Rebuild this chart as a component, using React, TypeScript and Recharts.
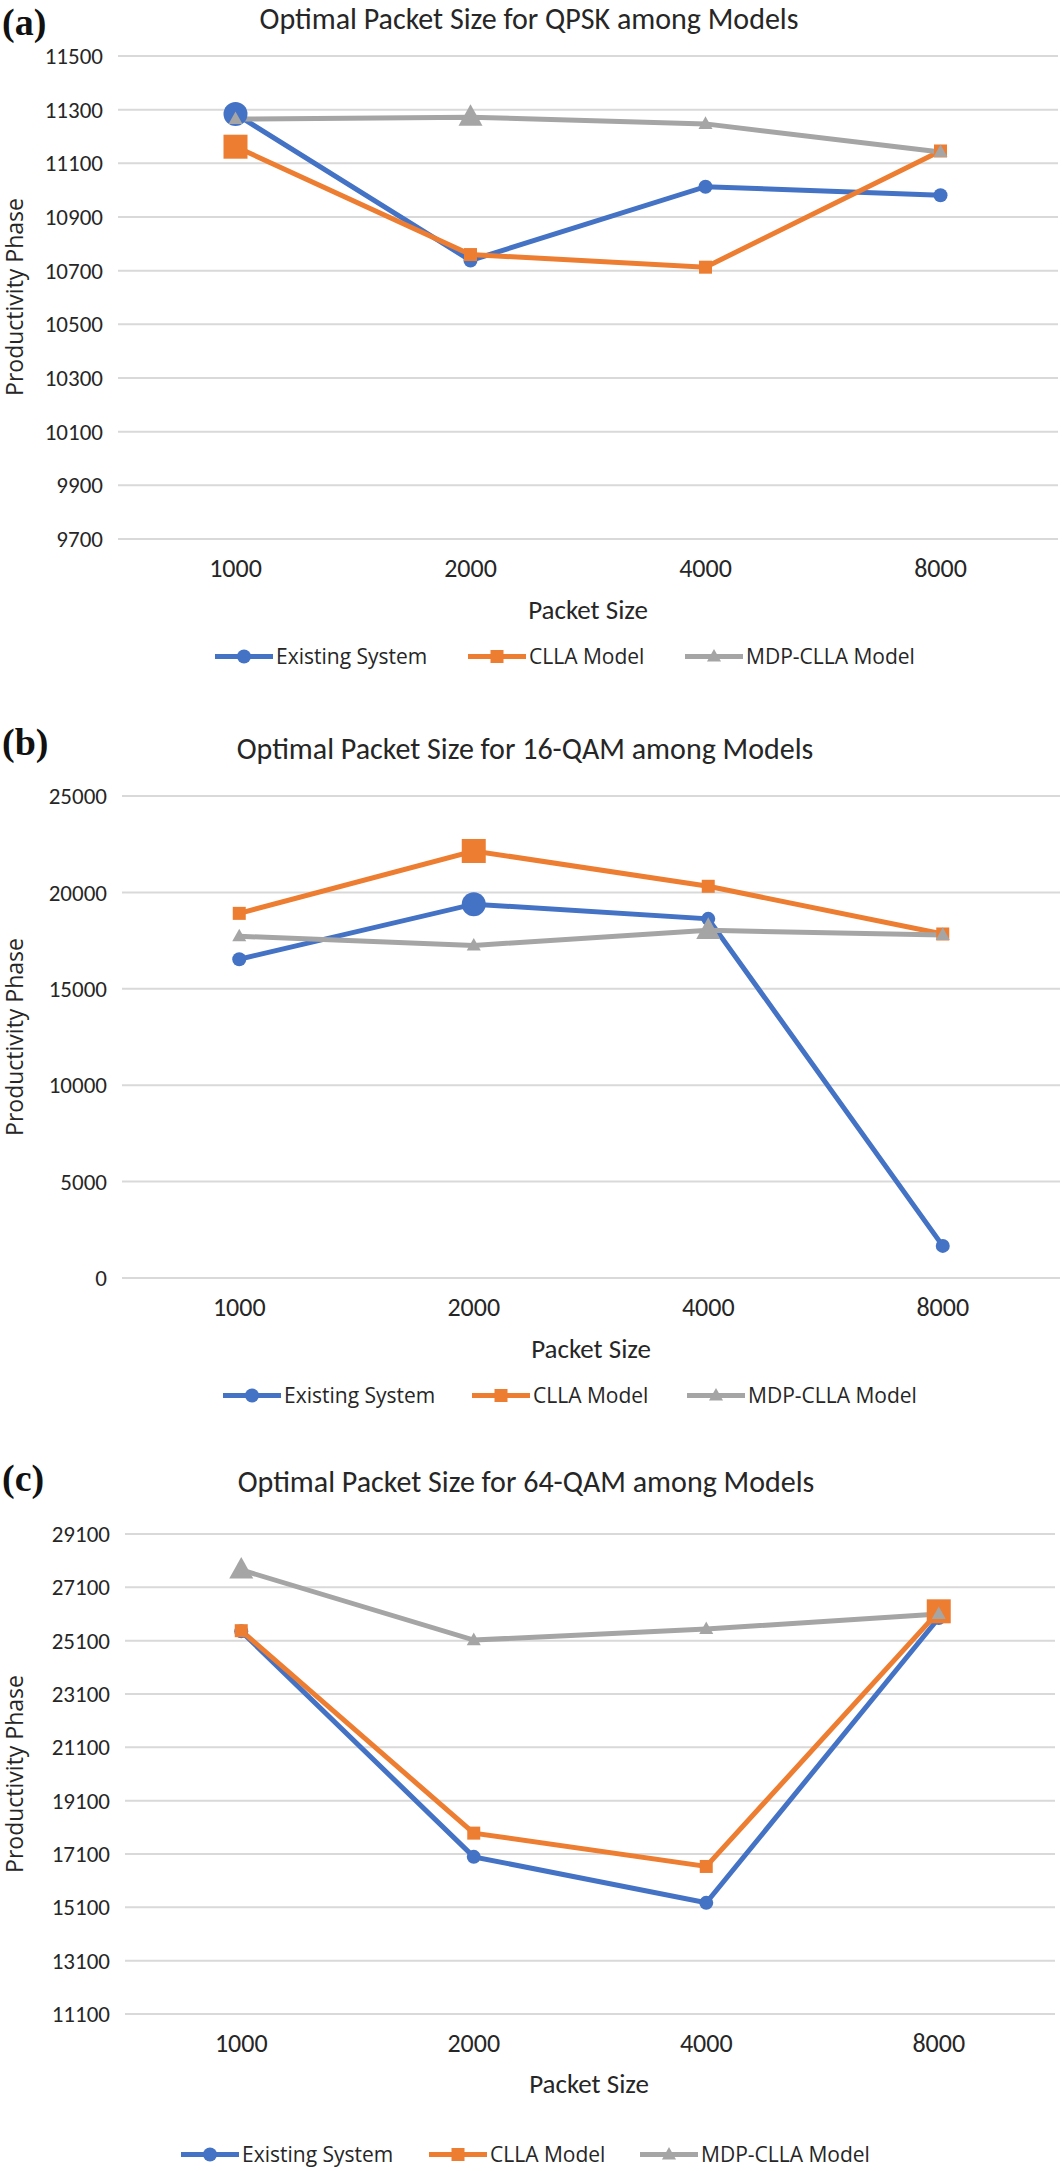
import React from 'react';
import { LineChart, Line, XAxis, YAxis, CartesianGrid } from 'recharts';

// Packet sizes shared by all three panels
const packetSizes = ['1000', '2000', '4000', '8000'];
const seriesNames = ['Existing System', 'CLLA Model', 'MDP-CLLA Model'];

// (a) QPSK
const qpskExisting = [11284, 10738, 11013, 10981];
const qpskClla = [11162, 10760, 10713, 11146];
const qpskMdp = [11265, 11272, 11247, 11142];
const qpskTicks = [9700, 9900, 10100, 10300, 10500, 10700, 10900, 11100, 11300, 11500];

// (b) 16-QAM
const qam16Existing = [16534, 19389, 18628, 1665];
const qam16Clla = [18913, 22148, 20317, 17843];
const qam16Mdp = [17724, 17248, 18033, 17795];
const qam16Ticks = [0, 5000, 10000, 15000, 20000, 25000];

// (c) 64-QAM
const qam64Existing = [25450, 16993, 15269, 25950];
const qam64Clla = [25474, 17883, 16633, 26200];
const qam64Mdp = [27754, 25121, 25538, 26100];
const qam64Ticks = [11100, 13100, 15100, 17100, 19100, 21100, 23100, 25100, 27100, 29100];

const COLORS = ['#4472C4', '#ED7D31', '#A5A5A5'];
const SHAPES = ['circle', 'square', 'triangle'];
const KEYS = ['existing', 'clla', 'mdp'];

const NARROW = 'Carlito, "Liberation Sans Narrow", "DejaVu Sans Condensed", "Noto Sans", sans-serif';
const WIDE = '"Open Sans", "Noto Sans", sans-serif';
const TEXT = '#262626';

const drawMarker = (shape: string, color: string, cx: number, cy: number, big: boolean, key?: any) => {
  if (shape === 'circle') {
    return <circle key={key} cx={cx} cy={cy} r={big ? 12 : 7} fill={color} />;
  }
  if (shape === 'square') {
    const s = big ? 24 : 13;
    return <rect key={key} x={cx - s / 2} y={cy - s / 2} width={s} height={s} fill={color} />;
  }
  const s = big ? 24 : 14;
  const h = s * 0.9;
  return (
    <polygon
      key={key}
      points={`${cx},${cy - h * 0.6} ${cx - s / 2},${cy + h * 0.4} ${cx + s / 2},${cy + h * 0.4}`}
      fill={color}
    />
  );
};

const makeDot = (shape: string, color: string, bigIndex: number) => (props: any) => {
  const { cx, cy, index } = props;
  if (cx == null || cy == null) return <g key={index} />;
  return drawMarker(shape, color, cx, cy, index === bigIndex, index);
};

const LegendIcon = ({ i }: { i: number }) => (
  <svg width={58} height={20} style={{ display: 'block' }}>
    <line x1={0} y1={10} x2={58} y2={10} stroke={COLORS[i]} strokeWidth={5} strokeLinecap="round" />
    {drawMarker(SHAPES[i], COLORS[i], 29, 10, false)}
  </svg>
);

interface PanelProps {
  top: number;
  height: number;
  plotTop: number;
  plotBottom: number;
  plotLeft: number;
  plotRight: number;
  tag: string;
  tagY: number;
  title: string;
  titleX: number;
  titleY: number;
  yLabelY: number;
  xLabelX: number;
  xLabelY: number;
  legendY: number;
  legendLefts: number[];
  series: number[][];
  ticks: number[];
  bigIdx: number[];
}

const Panel = (p: PanelProps) => {
  const data = packetSizes.map((size, i) => ({
    size,
    existing: p.series[0][i],
    clla: p.series[1][i],
    mdp: p.series[2][i],
  }));
  const band = (p.plotRight - p.plotLeft) / packetSizes.length;
  const xAxisH = 30;
  return (
    <>
      <div style={{ position: 'absolute', left: 0, top: p.top, width: 1062, height: p.height }}>
        <LineChart
          width={1062}
          height={p.height}
          data={data}
          margin={{
            top: p.plotTop - p.top,
            right: 1062 - p.plotRight,
            bottom: p.top + p.height - p.plotBottom - xAxisH,
            left: 0,
          }}
        >
          <CartesianGrid vertical={false} stroke="#d9d9d9" strokeWidth={2} />
          <XAxis
            dataKey="size"
            height={xAxisH}
            axisLine={false}
            tickLine={false}
            tickSize={0}
            tickMargin={20}
            padding={{ left: band / 2, right: band / 2 }}
            tick={{ fill: TEXT, fontSize: 26, fontFamily: NARROW }}
          />
          <YAxis
            width={p.plotLeft}
            domain={[p.ticks[0], p.ticks[p.ticks.length - 1]]}
            ticks={p.ticks}
            interval={0}
            axisLine={false}
            tickLine={false}
            tickSize={0}
            tickMargin={15}
            tick={{ fill: TEXT, fontSize: 23, fontFamily: NARROW }}
          />
          {KEYS.map((k, i) => (
            <Line
              key={k}
              dataKey={k}
              stroke={COLORS[i]}
              strokeWidth={5}
              type="linear"
              dot={makeDot(SHAPES[i], COLORS[i], p.bigIdx[i])}
              activeDot={false}
              isAnimationActive={false}
            />
          ))}
        </LineChart>
      </div>
      <div
        style={{
          position: 'absolute', left: 2, top: p.tagY, transform: 'translateY(-50%)',
          fontFamily: '"Liberation Serif", "DejaVu Serif", serif', fontWeight: 'bold', fontSize: 38, lineHeight: 1, color: '#111',
        }}
      >
        {p.tag}
      </div>
      <div
        style={{
          position: 'absolute', left: p.titleX, top: p.titleY, transform: 'translate(-50%, -50%)',
          fontFamily: NARROW, fontSize: 30, whiteSpace: 'nowrap', color: TEXT, lineHeight: 1.1,
        }}
      >
        {p.title}
      </div>
      <div
        style={{
          position: 'absolute', left: 14, top: p.yLabelY, transform: 'translate(-50%, -50%) rotate(-90deg)',
          fontFamily: WIDE, fontSize: 23, whiteSpace: 'nowrap', color: TEXT, lineHeight: 1,
        }}
      >
        Productivity Phase
      </div>
      <div
        style={{
          position: 'absolute', left: p.xLabelX, top: p.xLabelY, transform: 'translate(-50%, -50%)',
          fontFamily: NARROW, fontSize: 27, whiteSpace: 'nowrap', color: TEXT, lineHeight: 1,
        }}
      >
        Packet Size
      </div>
      {seriesNames.map((name, i) => (
        <div
          key={name}
          style={{
            position: 'absolute', left: p.legendLefts[i], top: p.legendY, transform: 'translateY(-50%)',
            display: 'flex', alignItems: 'center', gap: 3,
            fontFamily: WIDE, fontSize: 21, whiteSpace: 'nowrap', color: TEXT, lineHeight: 1,
          }}
        >
          <LegendIcon i={i} />
          <span>{name}</span>
        </div>
      ))}
    </>
  );
};

export default function App() {
  return (
    <div style={{ position: 'absolute', left: 0, top: 0, width: 1062, height: 2171, background: '#fff' }}>
      <Panel
        top={0} height={690} plotTop={56} plotBottom={539} plotLeft={118} plotRight={1058}
        tag="(a)" tagY={22} title="Optimal Packet Size for QPSK among Models" titleX={529} titleY={18}
        yLabelY={297} xLabelX={588} xLabelY={609} legendY={656} legendLefts={[215, 468, 685]}
        series={[qpskExisting, qpskClla, qpskMdp]} ticks={qpskTicks} bigIdx={[0, 0, 1]}
      />
      <Panel
        top={690} height={720} plotTop={796} plotBottom={1278} plotLeft={122} plotRight={1060}
        tag="(b)" tagY={742} title="Optimal Packet Size for 16-QAM among Models" titleX={525} titleY={748}
        yLabelY={1037} xLabelX={591} xLabelY={1348} legendY={1395} legendLefts={[223, 472, 687]}
        series={[qam16Existing, qam16Clla, qam16Mdp]} ticks={qam16Ticks} bigIdx={[1, 1, 2]}
      />
      <Panel
        top={1410} height={761} plotTop={1534} plotBottom={2014} plotLeft={125} plotRight={1055}
        tag="(c)" tagY={1478} title="Optimal Packet Size for 64-QAM among Models" titleX={526} titleY={1481}
        yLabelY={1774} xLabelX={589} xLabelY={2083} legendY={2154} legendLefts={[181, 429, 640]}
        series={[qam64Existing, qam64Clla, qam64Mdp]} ticks={qam64Ticks} bigIdx={[-1, 3, 0]}
      />
    </div>
  );
}
